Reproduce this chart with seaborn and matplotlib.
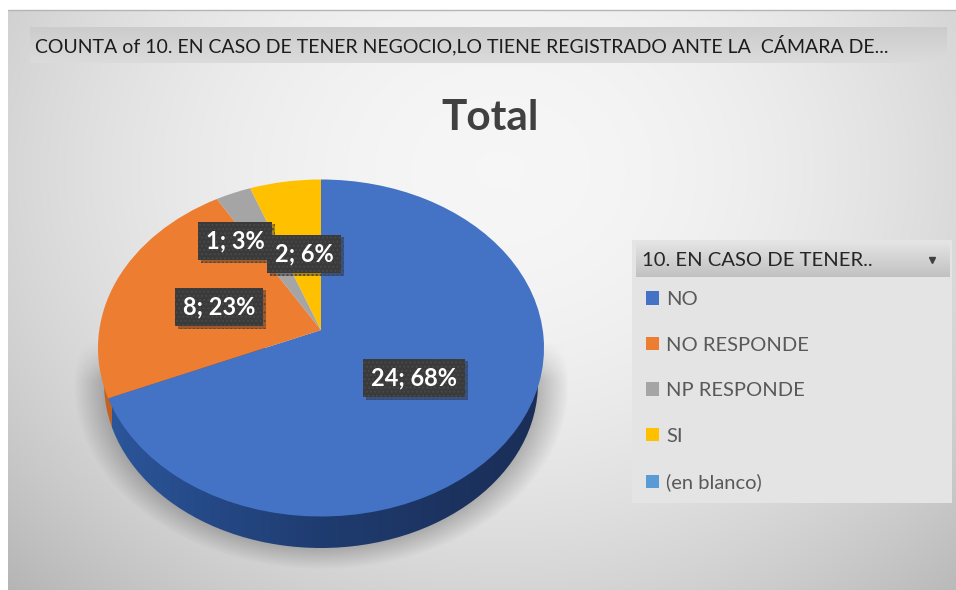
import matplotlib
matplotlib.use("Agg")
import matplotlib.pyplot as plt
import matplotlib.patheffects as pe
from matplotlib.patches import Ellipse, Rectangle
from matplotlib.transforms import Transform
import numpy as np
import seaborn as sns

categories = ["NO", "NO RESPONDE", "NP RESPONDE", "SI", "(en blanco)"]
counts = [24, 8, 1, 2, 0]
slice_labels = ["24; 68%", "8; 23%", "1; 3%", "2; 6%"]
label_x = [414, 219, 235, 304]
label_y = [378, 307, 241, 254]
slice_colors = ["#4472C4", "#ED7D31", "#A5A5A5", "#FFC000", "#5B9BD5"]

top_text = "COUNTA of 10. EN CASO DE TENER NEGOCIO,LO TIENE REGISTRADO ANTE LA  CÁMARA DE..."
legend_head = "10. EN CASO DE TENER.."

W, H = 956, 590
CX, CY, A, B = 321, 348, 223, 168.5  # ellipse of the pie top, in pixels
K = 18 / 168.5  # how far the apex sits above the ellipse centre
# the underside ellipse is a bit smaller because of the perspective
LOW_CY, LOW_A, LOW_B = 383, 217, 165


def tilt(u, v):
    # unit circle -> tilted pie top, the apex moves back like in excel 3d
    d = 1 + K * v
    return CX + A * u * np.sqrt(1 - K ** 2) / d, CY - B * (v + K) / d


class TiltTransform(Transform):
    input_dims = 2
    output_dims = 2
    is_affine = False

    def transform_non_affine(self, values):
        x, y = tilt(values[:, 0], values[:, 1])
        return np.column_stack([x, y])


def gradient(ax, extent, data, z, clip=None):
    im = ax.imshow(data, extent=extent, aspect="auto", zorder=z, interpolation="bilinear")
    if clip is not None:
        im.set_clip_path(clip)
    return im


def draw_background(ax):
    yy, xx = np.mgrid[10:590, 8:956]
    r = ((xx - 500) / 620.0) ** 2 + ((yy - 170) / 520.0) ** 2
    shade = np.clip(0.965 - 0.20 * r, 0, 1)
    gradient(ax, (8, 956, 590, 10), shade[..., None].repeat(3, axis=2), 0)
    ax.plot([8, 956], [10, 10], color="#b5b5b5", lw=1, zorder=0.5)
    # soft shadow under the pie
    d = np.sqrt(((xx - CX) / 248.0) ** 2 + ((yy - 385) / 184.0) ** 2)
    alpha = 0.30 * np.clip((1 - d) / 0.16, 0, 1) * np.clip((yy - 340) / 40.0, 0, 1)
    rgba = np.zeros(xx.shape + (4,))
    rgba[..., 3] = alpha
    gradient(ax, (8, 956, 590, 10), rgba, 1)


def draw_rim(ax):
    rim = Ellipse((CX, LOW_CY), 2 * LOW_A, 2 * LOW_B, facecolor="none", edgecolor="none", zorder=2)
    ax.add_patch(rim)
    cols = np.arange(CX - LOW_A, CX + LOW_A + 1)
    stops = np.array([CX - LOW_A, 210, 321, 450, CX + LOW_A])
    blues = np.array([[0x2C, 0x56, 0x9C], [0x25, 0x49, 0x86], [0x1F, 0x3C, 0x70], [0x1C, 0x33, 0x60], [0x1A, 0x2E, 0x57]])
    img = np.column_stack([np.interp(cols, stops, blues[:, i]) for i in range(3)]) / 255.0
    # orange wall left of the blue slice edge
    a = 2 * np.pi * counts[0] / sum(counts)
    edge_x = tilt(np.sin(a), np.cos(a))[0]
    img[cols < edge_x + 3] = np.array([0xC0, 0x62, 0x22]) / 255.0
    gradient(ax, (cols[0], cols[-1] + 1, LOW_CY + LOW_B, CY), img[None, :, :], 2, clip=rim)


def main():
    sns.set_theme(style="white")
    plt.rcParams["font.family"] = ["Lato", "DejaVu Sans"]
    fig, ax = plt.subplots(figsize=(W / 100, H / 100), dpi=100)
    fig.patch.set_facecolor("white")
    ax.set_position([0, 0, 1, 1])

    draw_background(ax)
    draw_rim(ax)

    wedges, _ = ax.pie(counts, colors=sns.color_palette(slice_colors), startangle=90, counterclock=False, radius=1)
    for w in wedges:
        w.set_transform(TiltTransform() + ax.transData)
        w.set_zorder(3)
        w.set_linewidth(0)

    # grey strip with the field name
    bar = np.linspace(0.80, 0.86, 40)[:, None, None].repeat(3, axis=2)
    gradient(ax, (30, 947, 63, 27), bar, 4)
    ax.text(35, 45.5, top_text, fontsize=14, color="#1c1c1c", va="center", ha="left", zorder=5)

    ax.text(490, 117.5, "Total", fontsize=30.5, fontweight="bold", color="#404040", ha="center", va="center", zorder=5)

    for x, y, s in zip(label_x, label_y, slice_labels):
        t = ax.text(x, y, s, fontsize=17, fontweight="bold", color="white", ha="center", va="center", zorder=6,
                    bbox=dict(boxstyle="square,pad=0.33", facecolor="#3A3A3A", edgecolor="#484848", hatch="....", linewidth=0))
        t.get_bbox_patch().set_path_effects([pe.withSimplePatchShadow(offset=(2, -2), alpha=0.35, shadow_rgbFace="k")])

    # legend panel
    ax.add_patch(Rectangle((632, 240), 320, 263, facecolor="#E4E4E4", edgecolor="none", zorder=4))
    head = np.linspace(0.89, 0.76, 30)[:, None, None].repeat(3, axis=2)
    gradient(ax, (636, 950, 277, 243), head, 5)
    ax.text(642, 260.5, legend_head, fontsize=14.6, color="#262626", va="center", ha="left", zorder=6)
    ax.plot([932], [260], marker="v", ms=5, color="#404040", zorder=6, ls="none")

    leg = ax.legend(wedges, categories, loc="upper left", bbox_to_anchor=(646, 291), bbox_transform=ax.transData,
                    frameon=False, fontsize=14.5, labelcolor="#595959", handlelength=0.65, handleheight=0.65,
                    handletextpad=0.35, labelspacing=1.42, borderpad=0, borderaxespad=0)
    leg.set_zorder(7)

    ax.set_xlim(0, W)
    ax.set_ylim(H, 0)
    ax.set_aspect("auto")
    ax.axis("off")
    fig.savefig("out.png", dpi=100, facecolor="white")


if __name__ == "__main__":
    main()
